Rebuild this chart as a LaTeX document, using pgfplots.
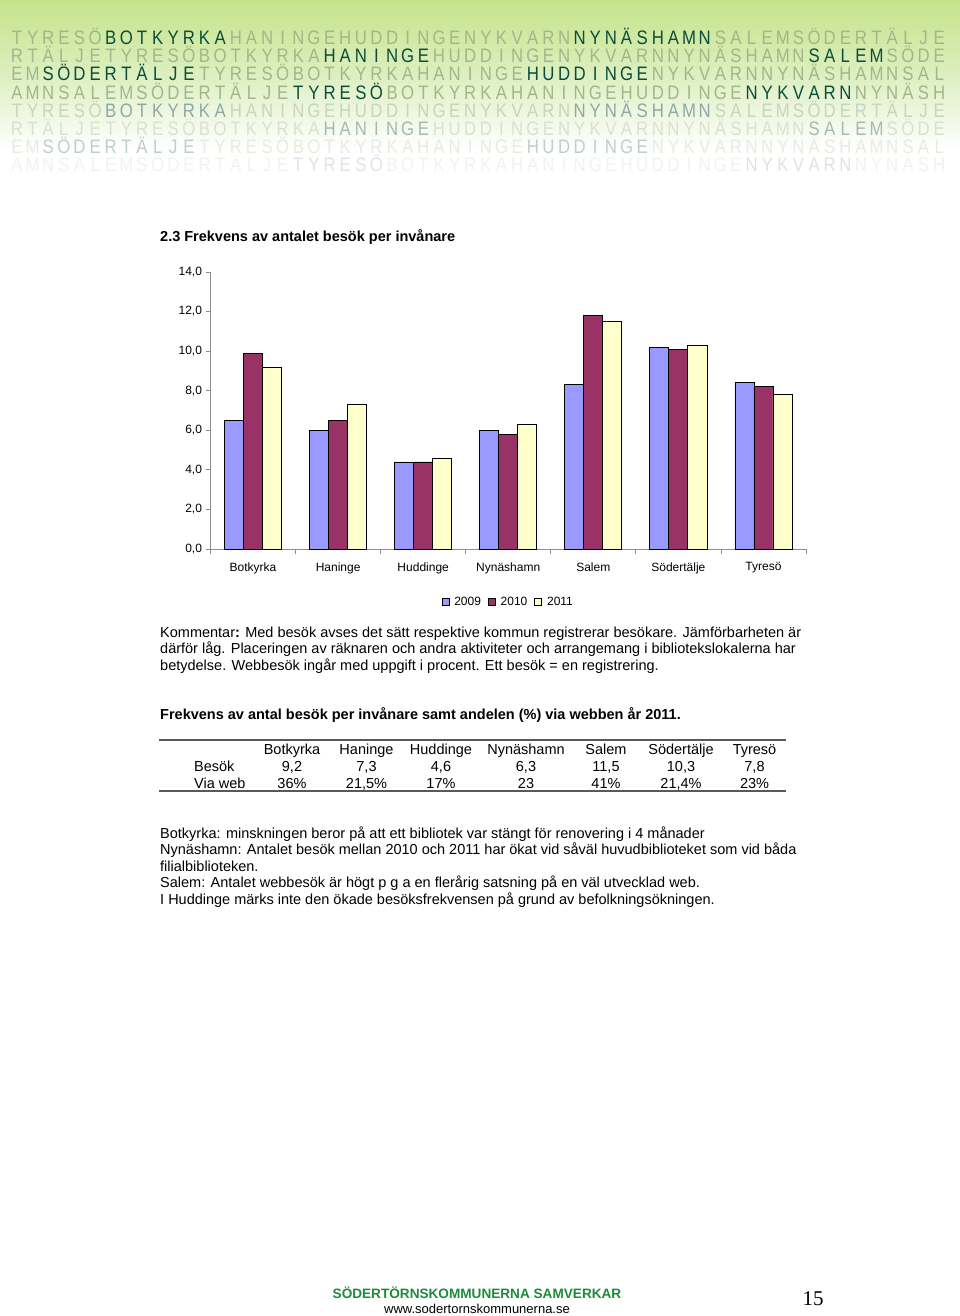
\documentclass[border=0pt]{standalone}
\usepackage{fontspec}
\setmainfont{Liberation Sans}
\newfontfamily\seriffont{Liberation Serif}
\usepackage{graphicx}
\usepackage{pgfplots}
\pgfplotsset{compat=1.18}
\definecolor{c09}{HTML}{9999FF}
\definecolor{c10}{HTML}{993366}
\definecolor{c11}{HTML}{FFFFCC}
\definecolor{gtop}{HTML}{C4E389}
\definecolor{gmid}{HTML}{DDEFC0}
\definecolor{nA}{HTML}{A0B78A}
\definecolor{hA}{HTML}{0B4D3A}
\definecolor{nB}{HTML}{C6D5BC}
\definecolor{hB}{HTML}{8EA8A6}
\definecolor{nC}{HTML}{D8E1D2}
\definecolor{hC}{HTML}{A6B8B8}
\definecolor{nD}{HTML}{E6ECE3}
\definecolor{hD}{HTML}{C0CDCF}
\definecolor{nE}{HTML}{F1F3EF}
\definecolor{hE}{HTML}{DEE4E5}
\definecolor{footgreen}{HTML}{1E8A3C}
\def\hdrloop#1{\ifx\relax#1\else\makebox[15.63pt]{\scalebox{0.86}[1]{#1}}\expandafter\hdrloop\fi}
\newcommand\hc[2]{\textcolor{#1}{\hdrloop#2\relax}}
\newcommand\rowA[2]{\hc{#1}{TYRESÖ}\hc{#2}{BOTKYRKA}\hc{#1}{HANINGEHUDDINGENYKVARN}\hc{#2}{NYNÄSHAMN}\hc{#1}{SALEMSÖDERTÄLJE}}
\newcommand\rowB[2]{\hc{#1}{RTÄLJETYRESÖBOTKYRKA}\hc{#2}{HANINGE}\hc{#1}{HUDDINGENYKVARNNYNÄSHAMN}\hc{#2}{SALEM}\hc{#1}{SÖDE}}
\newcommand\rowC[2]{\hc{#1}{EM}\hc{#2}{SÖDERTÄLJE}\hc{#1}{TYRESÖBOTKYRKAHANINGE}\hc{#2}{HUDDINGE}\hc{#1}{NYKVARNNYNÄSHAMNSAL}}
\newcommand\rowD[2]{\hc{#1}{AMNSALEMSÖDERTÄLJE}\hc{#2}{TYRESÖ}\hc{#1}{BOTKYRKAHANINGEHUDDINGE}\hc{#2}{NYKVARN}\hc{#1}{NYNÄSH}}
\newcommand\hdrfont{\fontsize{19.5pt}{19.5pt}\selectfont}
\newcommand\bodyfont{\fontsize{14.5pt}{16.5pt}\selectfont}
\newcommand\smallfont{\fontsize{12pt}{12pt}\selectfont}
\begin{document}
\begin{tikzpicture}
\begin{scope}[x=1pt,y=1pt]
\useasboundingbox[fill=white] (0,0) rectangle (960,-1316);
% header band
\shade[top color=gtop, bottom color=white, middle color=gmid] (0,0) rectangle (960,-150);
\begin{scope}[every node/.style={anchor=base west,inner sep=0pt,font=\hdrfont}]
\node at (9,-44.5) {\rowA{nA}{hA}};
\node at (9,-62.7) {\rowB{nA}{hA}};
\node at (9,-80.9) {\rowC{nA}{hA}};
\node at (9,-99.1) {\rowD{nA}{hA}};
\node at (9,-117.3) {\rowA{nB}{hB}};
\node at (9,-135.5) {\rowB{nC}{hC}};
\node at (9,-153.7) {\rowC{nD}{hD}};
\node at (9,-171.9) {\rowD{nE}{hE}};
\end{scope}
% title
\node[anchor=base west,inner sep=0pt,font=\bodyfont\bfseries] at (160,-241) {2.3 Frekvens av antalet besök per invånare};
% comment text
\begin{scope}[every node/.style={anchor=base west,inner sep=0pt,font=\bodyfont}]
\node at (160,-637) {Kommentar\textbf{:} Med besök avses det sätt respektive kommun registrerar besökare. Jämförbarheten är};
\node at (160,-653.5) {därför låg. Placeringen av räknaren och andra aktiviteter och arrangemang i bibliotekslokalerna har};
\node at (160,-670) {betydelse. Webbesök ingår med uppgift i procent. Ett besök = en registrering.};
\node[font=\bodyfont\bfseries] at (160,-719) {Frekvens av antal besök per invånare samt andelen (\%) via webben år 2011.};
\node at (160,-838) {Botkyrka: minskningen beror på att ett bibliotek var stängt för renovering i 4 månader};
\node at (160,-854.6) {Nynäshamn: Antalet besök mellan 2010 och 2011 har ökat vid såväl huvudbiblioteket som vid båda};
\node at (160,-871.2) {filialbiblioteken.};
\node at (160,-887.8) {Salem: Antalet webbesök är högt p g a en flerårig satsning på en väl utvecklad web.};
\node at (160,-904.4) {I Huddinge märks inte den ökade besöksfrekvensen på grund av befolkningsökningen.};
\node at (194,-771) {Besök};
\node at (194,-788) {Via web};
\end{scope}
% table
\draw[line width=1.5pt, draw=black!65] (159,-740) -- (786,-740);
\draw[line width=1.5pt, draw=black!65] (159,-791) -- (786,-791);
\begin{scope}[every node/.style={anchor=base,inner sep=0pt,font=\bodyfont}]
\foreach \cx/\h/\b/\w in {292/Botkyrka/{9,2}/36\%, 366.5/Haninge/{7,3}/{21,5\%}, 441/Huddinge/{4,6}/17\%, 526/Nynäshamn/{6,3}/23, 606/Salem/{11,5}/41\%, 681/Södertälje/{10,3}/{21,4\%}, 754.5/Tyresö/{7,8}/23\%}{
  \node at (\cx,-754) {\h};
  \node at (\cx,-771) {\b};
  \node at (\cx,-788) {\w};
}
\end{scope}
% footer
\node[anchor=base,inner sep=0pt,font=\fontsize{13.6pt}{14pt}\selectfont\bfseries,text=footgreen] at (477,-1298) {SÖDERTÖRNSKOMMUNERNA SAMVERKAR};
\node[anchor=base,inner sep=0pt,font=\fontsize{13pt}{14pt}\selectfont] at (477,-1313) {www.sodertornskommunerna.se};
\node[anchor=base,inner sep=0pt,font=\fontsize{21pt}{22pt}\selectfont\seriffont] at (813,-1305) {15};
\end{scope}
\begin{axis}[
  at={(210.5pt,-549pt)}, anchor=south west,
  scale only axis, width=595.5pt, height=277pt,
  xmin=-0.5, xmax=6.5, ymin=0, ymax=14,
  ybar=0pt, bar width=19pt,
  axis x line=bottom, axis y line=left,
  axis line style={-, draw=black!45, line width=0.8pt},
  tick style={draw=black!45, line width=0.8pt},
  tick align=outside, major tick length=5pt,
  xtick={-0.5,0.5,...,6.5},
  x tick label as interval,
  xticklabels={Botkyrka,Haninge,Huddinge,Nynäshamn,Salem,Södertälje,Tyresö},
  x tick label style={yshift=-5pt},
  ytick={0,2,...,14},
  /pgf/number format/assume math mode=true,
  yticklabel style={/pgf/number format/fixed,/pgf/number format/fixed zerofill,/pgf/number format/precision=1,/pgf/number format/use comma},
  scaled y ticks=false,
  tick label style={font=\smallfont},
  legend columns=3,
  legend style={at={(0.5,-0.191)}, anchor=center, draw=none, fill=none, font=\smallfont,
    /tikz/every odd column/.append style={column sep=3pt},
    /tikz/every even column/.append style={column sep=5pt}},
  legend image code/.code={\draw[#1,draw=black,line width=0.7pt] (0pt,-3.5pt) rectangle (7pt,3.5pt);},
  clip=false,
]
\addplot[fill=c09, draw=black, line width=0.8pt] coordinates {(0,6.5) (1,6.0) (2,4.4) (3,6.0) (4,8.3) (5,10.2) (6,8.4)};
\addplot[fill=c10, draw=black, line width=0.8pt] coordinates {(0,9.9) (1,6.5) (2,4.4) (3,5.8) (4,11.8) (5,10.1) (6,8.2)};
\addplot[fill=c11, draw=black, line width=0.8pt] coordinates {(0,9.2) (1,7.3) (2,4.6) (3,6.3) (4,11.5) (5,10.3) (6,7.8)};
\legend{2009,2010,2011}
\end{axis}
\end{tikzpicture}
\end{document}
